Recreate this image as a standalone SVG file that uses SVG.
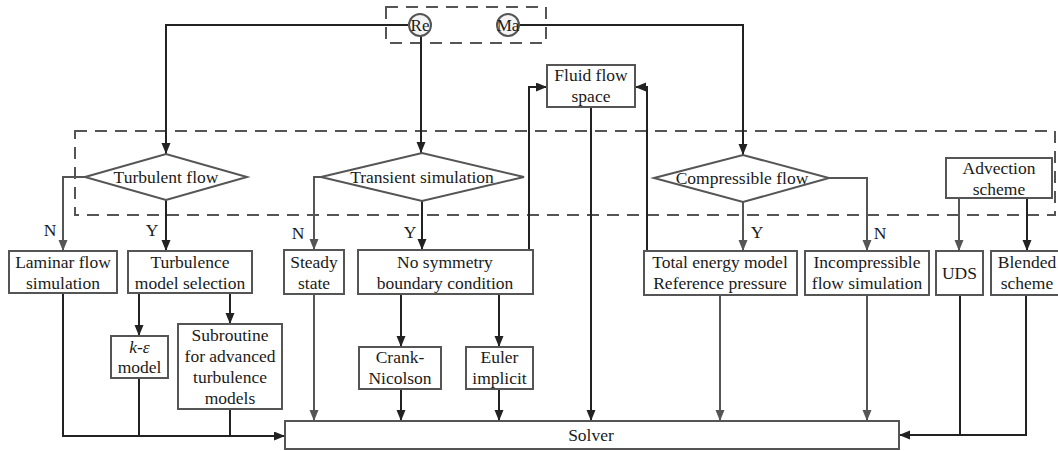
<svg xmlns="http://www.w3.org/2000/svg" width="1058" height="451" viewBox="0 0 1058 451" font-family="'Liberation Serif', 'Times New Roman', 'DejaVu Serif', serif">
  <defs>
    <style>
      .box { fill: #ffffff; stroke: #555555; stroke-width: 2; }
      .dash { fill: none; stroke: #555555; stroke-width: 2; stroke-dasharray: 12 8; }
      text { font-family: 'Liberation Serif', 'Times New Roman', 'DejaVu Serif', serif; font-size: 17.5px; fill: #1a1a1a; text-anchor: middle; }
      .c { fill: none; stroke: #222222; stroke-width: 2; }
      .g { fill: none; stroke: #555555; stroke-width: 2; }
      .ca { marker-end: url(#ah); }
      .ga { marker-end: url(#ahg); }
    </style>
    <marker id="ah" markerUnits="userSpaceOnUse" markerWidth="12" markerHeight="10" refX="11" refY="4.5" orient="auto">
      <path d="M0,0 L11,4.5 L0,9 z" fill="#222222"/>
    </marker>
    <marker id="ahg" markerUnits="userSpaceOnUse" markerWidth="12" markerHeight="10" refX="11" refY="4.5" orient="auto">
      <path d="M0,0 L11,4.5 L0,9 z" fill="#555555"/>
    </marker>
  </defs>

  <rect x="0" y="0" width="1058" height="451" fill="#ffffff"/>

  <!-- dashed groupings -->
  <g id="regions">
    <rect x="386" y="7" width="160" height="36" fill="#eeeeee" class="dash"/>
    <rect x="75" y="131" width="980" height="84" class="dash"/>
  </g>

  <!-- connectors -->
  <g id="connectors">
    <path class="c ca" d="M408,25 H166 V154"/>
    <path class="c ca" d="M421,36 V153"/>
    <path class="c ca" d="M519,25 H743 V155"/>
    <path class="g ga" d="M85,177 H63 V251"/>
    <path class="c ca" d="M166,200 V251"/>
    <path class="g ga" d="M321,177 H314 V250"/>
    <path class="c ca" d="M422,201 V250"/>
    <path class="c ca" d="M529,250 V87 H547"/>
    <path class="c ca" d="M647,251 V87 H635"/>
    <path class="g ga" d="M743,202 V251"/>
    <path class="g ga" d="M829,178 H867 V251"/>
    <path class="g ga" d="M959,198 V251"/>
    <path class="c ca" d="M1027,198 V251"/>
    <path class="c ca" d="M139,293 V336"/>
    <path class="c ca" d="M230,293 V324"/>
    <path class="c ca" d="M401,294 V347"/>
    <path class="c ca" d="M499,294 V347"/>
    <path class="c ca" d="M63,293 V436 H285"/>
    <path class="c" d="M139,378 V436"/>
    <path class="c" d="M230,409 V436"/>
    <path class="g ga" d="M314,294 V421"/>
    <path class="c ca" d="M401,389 V421"/>
    <path class="c ca" d="M499,389 V421"/>
    <path class="c ca" d="M591,107 V421"/>
    <path class="g ga" d="M720,295 V421"/>
    <path class="g ga" d="M867,295 V421"/>
    <path class="c" d="M960,295 V435"/>
    <path class="c ca" d="M1026,295 V435 H899"/>
  </g>

  <!-- branch labels -->
  <g id="branch-labels">
    <text x="50" y="236">N</text>
    <text x="152" y="236">Y</text>
    <text x="298" y="239">N</text>
    <text x="410" y="238">Y</text>
    <text x="757" y="238">Y</text>
    <text x="880" y="239">N</text>
  </g>

  <!-- dimensionless numbers -->
  <g id="re">
    <circle cx="420" cy="25" r="11" fill="#f4f4f4" stroke="#555555" stroke-width="2"/>
    <text x="420" y="31" style="font-size:17px">Re</text>
  </g>
  <g id="ma">
    <circle cx="508" cy="25" r="11" fill="#f4f4f4" stroke="#555555" stroke-width="2"/>
    <text x="508" y="31" style="font-size:17px">Ma</text>
  </g>

  <g id="fluid-flow-space">
    <rect class="box" x="547" y="65" width="88" height="42"/>
    <text x="591" y="81">Fluid flow</text>
    <text x="591" y="102">space</text>
  </g>

  <!-- decisions -->
  <g id="turbulent-flow">
    <polygon class="box" points="85,177 166,154 247,177 166,200"/>
    <text x="166" y="183">Turbulent flow</text>
  </g>
  <g id="transient-simulation">
    <polygon class="box" points="321,177 422,153 524,177 422,201"/>
    <text x="422" y="183">Transient simulation</text>
  </g>
  <g id="compressible-flow">
    <polygon class="box" points="654,178 743,155 829,178 743,202"/>
    <text x="742" y="184">Compressible flow</text>
  </g>
  <g id="advection-scheme">
    <rect class="box" x="946" y="158" width="106" height="40"/>
    <text x="999" y="174">Advection</text>
    <text x="999" y="195">scheme</text>
  </g>

  <!-- second row -->
  <g id="laminar">
    <rect class="box" x="9" y="251" width="108" height="42"/>
    <text x="63" y="268">Laminar flow</text>
    <text x="63" y="289">simulation</text>
  </g>
  <g id="turbulence-model-selection">
    <rect class="box" x="128" y="251" width="124" height="42"/>
    <text x="190" y="268">Turbulence</text>
    <text x="190" y="289">model selection</text>
  </g>
  <g id="steady-state">
    <rect class="box" x="284" y="250" width="60" height="44"/>
    <text x="314" y="268">Steady</text>
    <text x="314" y="289">state</text>
  </g>
  <g id="no-symmetry">
    <rect class="box" x="358" y="250" width="175" height="44"/>
    <text x="445" y="268">No symmetry</text>
    <text x="445" y="289">boundary condition</text>
  </g>
  <g id="total-energy">
    <rect class="box" x="644" y="251" width="153" height="44"/>
    <text x="720" y="268">Total energy model</text>
    <text x="720" y="289">Reference pressure</text>
  </g>
  <g id="incompressible">
    <rect class="box" x="805" y="251" width="124" height="44"/>
    <text x="867" y="268">Incompressible</text>
    <text x="867" y="289">flow simulation</text>
  </g>
  <g id="uds">
    <rect class="box" x="936" y="251" width="47" height="44"/>
    <text x="959.5" y="279">UDS</text>
  </g>
  <g id="blended">
    <rect class="box" x="991" y="251" width="72" height="44"/>
    <text x="1027" y="268">Blended</text>
    <text x="1027" y="289">scheme</text>
  </g>

  <!-- third row -->
  <g id="k-epsilon">
    <rect class="box" x="111" y="336" width="57" height="42"/>
    <text x="139.5" y="353"><tspan font-style="italic">k</tspan>-<tspan font-style="italic">ε</tspan></text>
    <text x="139.5" y="373">model</text>
  </g>
  <g id="subroutine">
    <rect class="box" x="178" y="324" width="104" height="85"/>
    <text x="230" y="341">Subroutine</text>
    <text x="230" y="362">for advanced</text>
    <text x="230" y="383">turbulence</text>
    <text x="230" y="404">models</text>
  </g>
  <g id="crank-nicolson">
    <rect class="box" x="359" y="347" width="82" height="42"/>
    <text x="400" y="363">Crank-</text>
    <text x="400" y="384">Nicolson</text>
  </g>
  <g id="euler-implicit">
    <rect class="box" x="466" y="347" width="67" height="42"/>
    <text x="499.5" y="363">Euler</text>
    <text x="499.5" y="384">implicit</text>
  </g>

  <g id="solver">
    <rect class="box" x="285" y="421" width="614" height="28"/>
    <text x="591" y="441">Solver</text>
  </g>
</svg>
